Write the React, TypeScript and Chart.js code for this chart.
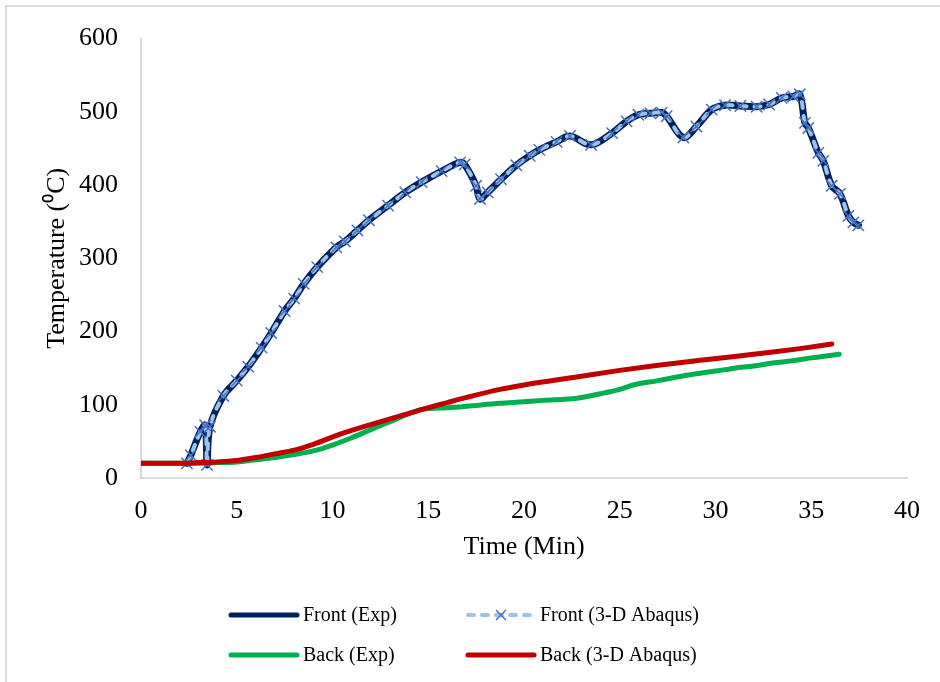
import { useEffect, useRef } from "react";
import { Chart, registerables } from "chart.js";

Chart.register(...registerables);

// Front face: experiment and 3-D Abaqus model share the same readings
const frontTime = [
  2.4, 2.6, 3.1, 3.35, 3.45, 3.6, 4.3, 5.0, 5.6, 6.3, 6.8, 7.5, 8.0, 8.5, 9.2,
  10.2, 10.65, 11.3, 11.9, 12.9, 13.8, 14.66, 15.7, 16.66, 16.9, 17.5, 17.7,
  18.1, 18.8, 19.6, 20.3, 20.8, 21.7, 22.4, 23.5, 24.6, 25.36, 25.97, 26.6,
  27.19, 27.45, 28.32, 29.0, 29.8, 30.5, 31.3, 32.15, 32.8, 33.46, 34.06, 34.4,
  34.67, 34.85, 35.37, 35.63, 36.07, 36.5, 36.94, 37.2, 37.46,
];
const frontExpTemp = [
  20, 31, 63, 72, 18, 70, 112, 133, 152, 178, 198, 228, 245, 265, 288, 315,
  323, 338, 352, 372, 390, 404, 419, 431, 428, 399, 381, 390, 408, 427, 440,
  448, 459, 467, 455, 471, 487, 496, 498, 499, 494, 465, 480, 503, 509, 508,
  507, 510, 519, 521, 524, 485, 478, 444, 433, 399, 388, 358, 349, 345,
];
const frontAbaqusTemp = frontExpTemp;

// Back face, experiment
const backExpTime = [
  0, 1, 2, 3, 4, 5, 6, 7, 8, 9, 10, 11, 12, 13, 14, 14.74, 16, 17, 18.75, 20,
  21, 22.75, 23.97, 25, 25.7, 27, 28, 29.2, 30, 31, 32, 33, 34, 35, 36.46,
];
const backExpTemp = [
  20, 20, 20, 20, 21, 22, 25, 28, 32, 37, 45, 55, 66, 77, 88, 94, 96, 98, 102,
  104, 106, 109, 115, 121, 127, 133, 138, 143, 146, 150, 153, 157, 160, 164, 169,
];

// Back face, 3-D Abaqus model
const backAbaqusTime = [
  0, 2, 3, 4, 5, 6, 7, 8, 9, 10.4, 12, 13.5, 14.74, 16, 17, 18.75, 20, 22.75,
  25, 27, 29.2, 31, 33, 34.5, 36.07,
];
const backAbaqusTemp = [
  20, 20, 21, 22, 24, 28, 33, 38, 46, 60, 73, 84.5, 94, 103, 110, 121, 127,
  138, 147, 154, 160.7, 166, 172, 177, 183,
];

const seriesNames = [
  "Front (Exp)",
  "Front (3-D Abaqus)",
  "Back (Exp)",
  "Back (3-D Abaqus)",
];

const xMin = 0;
const xMax = 40;
const xStep = 5;
const yMin = 0;
const yMax = 600;
const yStep = 100;

const SERIF = '"Liberation Serif", "Times New Roman", serif';

const toPoints = (xs: number[], ys: number[]) =>
  xs.map((x, i) => ({ x, y: ys[i] }));

// Two-column legend drawn under the plot, reading styles from the datasets
const gridLegend = {
  id: "gridLegend",
  afterDraw(chart: any) {
    const ctx: CanvasRenderingContext2D = chart.ctx;
    const colX = [231, 468];
    const rowY = [615, 655];
    const sampleLen = 66;
    chart.data.datasets.forEach((ds: any, i: number) => {
      const x0 = colX[i % 2];
      const y = rowY[Math.floor(i / 2)];
      ctx.save();
      ctx.lineCap = "round";
      ctx.strokeStyle = ds.borderColor;
      if (ds.borderDash && ds.borderDash.length) {
        ctx.lineWidth = ds.borderWidth;
        ctx.setLineDash(ds.borderDash);
      } else {
        ctx.lineWidth = 5;
      }
      ctx.beginPath();
      ctx.moveTo(x0, y);
      ctx.lineTo(x0 + sampleLen, y);
      ctx.stroke();
      ctx.setLineDash([]);
      if (ds.pointRadius) {
        const cx = x0 + sampleLen / 2;
        const r = ds.pointRadius * 0.62;
        ctx.lineCap = "butt";
        ctx.strokeStyle = ds.pointBorderColor;
        ctx.lineWidth = ds.pointBorderWidth;
        ctx.beginPath();
        ctx.moveTo(cx - r, y - r);
        ctx.lineTo(cx + r, y + r);
        ctx.moveTo(cx - r, y + r);
        ctx.lineTo(cx + r, y - r);
        ctx.stroke();
      }
      ctx.fillStyle = "#000";
      ctx.font = `20px ${SERIF}`;
      ctx.textBaseline = "middle";
      ctx.textAlign = "left";
      ctx.fillText(ds.label, x0 + sampleLen + 6, y + 0.5);
      ctx.restore();
    });
  },
};

export default function App() {
  const canvasRef = useRef<HTMLCanvasElement | null>(null);

  useEffect(() => {
    if (!canvasRef.current) return;
    const chart = new Chart(canvasRef.current, {
      type: "line",
      data: {
        datasets: [
          {
            label: seriesNames[0],
            data: toPoints(frontTime, frontExpTemp),
            order: 4,
            borderColor: "#002060",
            borderWidth: 7,
            pointRadius: 0,
            tension: 0.35,
            borderCapStyle: "round",
            borderJoinStyle: "round",
          },
          {
            label: seriesNames[1],
            data: toPoints(frontTime, frontAbaqusTemp),
            order: 3,
            borderColor: "#9DC3E6",
            borderWidth: 4,
            borderDash: [6, 8],
            borderCapStyle: "round",
            borderJoinStyle: "round",
            tension: 0.35,
            pointStyle: "crossRot",
            pointRadius: 8,
            pointBorderColor: "#4472C4",
            pointBackgroundColor: "#4472C4",
            pointBorderWidth: 1.5,
          },
          {
            label: seriesNames[2],
            data: toPoints(backExpTime, backExpTemp),
            order: 2,
            borderColor: "#00B050",
            borderWidth: 5,
            pointRadius: 0,
            cubicInterpolationMode: "monotone",
            borderCapStyle: "round",
          },
          {
            label: seriesNames[3],
            data: toPoints(backAbaqusTime, backAbaqusTemp),
            order: 1,
            borderColor: "#C00000",
            borderWidth: 5,
            pointRadius: 0,
            cubicInterpolationMode: "monotone",
            borderCapStyle: "round",
          },
        ],
      },
      options: {
        responsive: false,
        animation: false,
        devicePixelRatio: 1,
        layout: { padding: { left: 0, right: 33, top: 35, bottom: 119 } },
        plugins: {
          legend: { display: false },
          tooltip: { enabled: false },
        },
        scales: {
          x: {
            type: "linear",
            min: xMin,
            max: xMax,
            afterFit: (scale: any) => {
              scale.height = 85;
            },
            ticks: {
              stepSize: xStep,
              padding: 18,
              color: "#000",
              font: { family: SERIF, size: 26 },
              maxRotation: 0,
            },
            grid: { display: false, drawTicks: false },
            border: { display: true, color: "#d9d9d9", width: 2 },
            title: {
              display: true,
              text: "Time (Min)",
              color: "#000",
              font: { family: SERIF, size: 26 },
              padding: { top: 0, bottom: 0 },
            },
          },
          y: {
            type: "linear",
            min: yMin,
            max: yMax,
            afterFit: (scale: any) => {
              scale.width = 141;
            },
            ticks: {
              stepSize: yStep,
              padding: 23,
              color: "#000",
              font: { family: SERIF, size: 26 },
            },
            grid: { display: false, drawTicks: false },
            border: { display: true, color: "#d9d9d9", width: 2 },
            title: {
              display: true,
              text: "Temperature (\u2070C)",
              color: "#000",
              font: { family: SERIF, size: 26 },
              padding: { top: 42, bottom: 0 },
            },
          },
        },
      },
      plugins: [gridLegend],
    });
    return () => chart.destroy();
  }, []);

  return (
    <div
      style={{
        position: "fixed",
        left: 0,
        top: 0,
        width: 940,
        height: 682,
        overflow: "hidden",
        background: "#fff",
      }}
    >
      <canvas ref={canvasRef} width={940} height={682} />
      <div
        style={{
          position: "absolute",
          left: 5,
          top: 5,
          width: 960,
          height: 700,
          border: "2px solid #d9d9d9",
          pointerEvents: "none",
        }}
      />
    </div>
  );
}
